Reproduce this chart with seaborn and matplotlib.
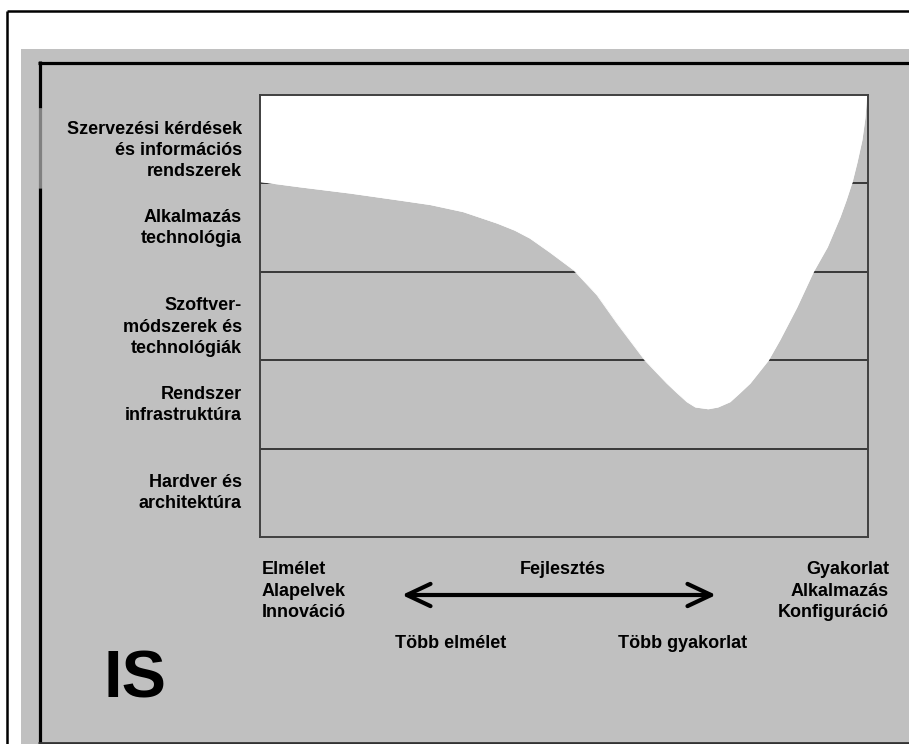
import matplotlib
matplotlib.use("Agg")
import matplotlib.pyplot as plt
import seaborn as sns
import numpy as np
from matplotlib.patches import Rectangle, FancyArrowPatch

# layers, top to bottom
layers = ["Szervezési kérdések\nés információs\nrendszerek",
          "Alkalmazás\ntechnológia",
          "Szoftver-\nmódszerek és\ntechnológiák",
          "Rendszer\ninfrastruktúra",
          "Hardver és\narchitektúra"]
band_tops = [5, 4, 3, 2, 1]
band_lines = [1, 2, 3, 4]

# boundary of the IS area (x: elmélet 0 -> gyakorlat 100, y: layer scale 0-5)
curve_x = [0, 6.6, 14.8, 23.0, 28.0, 33.4, 39.0, 41.9, 44.4, 47.7, 51.6, 55.4, 58.7,
           63.3, 65.1, 66.9, 68.6, 70.2, 71.6, 73.7, 75.3, 77.3, 78.9, 80.6,
           82.1, 83.6, 85.5, 88.3, 91.0, 93.3, 95.4, 96.4, 97.4, 98.2, 99.0,
           99.5, 99.75, 100]
curve_y = [4.02, 3.96, 3.89, 3.81, 3.76, 3.68, 3.55, 3.47, 3.38, 3.22, 3.02, 2.74, 2.42,
           2.00, 1.87, 1.74, 1.63, 1.53, 1.47, 1.45, 1.47, 1.53, 1.63, 1.74,
           1.87, 2.00, 2.23, 2.60, 3.00, 3.28, 3.62, 3.81, 4.02, 4.24, 4.49,
           4.74, 4.97, 5.0]

left_words = "Elmélet\nAlapelvek\nInnováció"
right_words = "Gyakorlat\nAlkalmazás\nKonfiguráció"

sns.set_theme(style="white")
plt.rcParams['font.family'] = ['Liberation Sans', 'DejaVu Sans']
plt.rcParams['font.weight'] = 'bold'
plt.rcParams['text.color'] = 'black'
plt.rcParams['ytick.color'] = 'black'
plt.rcParams['ytick.labelcolor'] = 'black'

GRAY = "#c0c0c0"
fig = plt.figure(figsize=(9.09, 7.44), dpi=100)
fig.patch.set_facecolor("white")

# background frame drawn in pixel coordinates
bg = fig.add_axes([0, 0, 1, 1], zorder=0)
bg.set_xlim(0, 909)
bg.set_ylim(744, 0)
bg.axis("off")
bg.add_patch(Rectangle((21, 49), 900, 700, color=GRAY, lw=0))
bg.plot([7, 7], [11, 744], color="black", lw=1.8, solid_capstyle="butt")
bg.plot([7, 909], [11, 11], color="black", lw=1.8, solid_capstyle="butt")
bg.plot([38, 909], [62.5, 62.5], color="black", lw=2.3, solid_capstyle="butt")
bg.plot([39.5, 39.5], [61, 108], color="black", lw=2.3, solid_capstyle="butt")
bg.plot([39.5, 39.5], [108, 188], color="#808080", lw=2.3, solid_capstyle="butt")
bg.plot([39.5, 39.5], [188, 744], color="black", lw=2.3, solid_capstyle="butt")
bg.plot([38, 909], [742.5, 742.5], color="#333333", lw=2, solid_capstyle="butt")

fs = 13
bg.text(262, 591, left_words, ha="left", va="center", fontsize=fs,
        fontweight="bold", linespacing=1.32)
bg.text(889, 591, right_words, ha="right", va="center", fontsize=fs,
        fontweight="bold", linespacing=1.32, multialignment="right")
bg.text(563, 570, "Fejlesztés", ha="center", va="center", fontsize=fs, fontweight="bold")
bg.text(451, 643, "Több elmélet", ha="center", va="center", fontsize=fs, fontweight="bold")
bg.text(683, 643, "Több gyakorlat", ha="center", va="center", fontsize=fs, fontweight="bold")
bg.add_patch(FancyArrowPatch((402, 595), (716, 595),
                             arrowstyle="<->,head_length=17,head_width=8",
                             mutation_scale=1, lw=3, color="black",
                             shrinkA=0, shrinkB=0))
bg.text(104, 698, "IS", ha="left", va="baseline", fontsize=48, fontweight="bold")

# main chart
ax = fig.add_axes([260 / 909, 207 / 744, 608 / 909, 442 / 744], zorder=1)
ax.set_facecolor(GRAY)
for yl in band_lines:
    ax.axhline(yl, color="#383838", lw=1.4, zorder=1)
ax.fill_between(curve_x, curve_y, 5, color="white", lw=0, zorder=2)
sns.lineplot(x=curve_x, y=curve_y, color="white", lw=0.6, ax=ax, zorder=2)
ax.set_xlim(0, 100)
ax.set_ylim(0, 5)
ax.set_xticks([])
ax.set_yticks(np.array(band_tops) - 0.29)
ax.set_yticklabels(layers, fontsize=fs, fontweight="bold", color="black")
for lbl in ax.get_yticklabels():
    lbl.set_va("top")
    lbl.set_multialignment("right")
    lbl.set_linespacing(1.32)
ax.tick_params(axis="y", length=0, pad=13)
for sp in ax.spines.values():
    sp.set_visible(True)
    sp.set_color("#404040")
    sp.set_linewidth(1.4)
    sp.set_zorder(3)

fig.savefig("out.png", dpi=100, facecolor="white")
